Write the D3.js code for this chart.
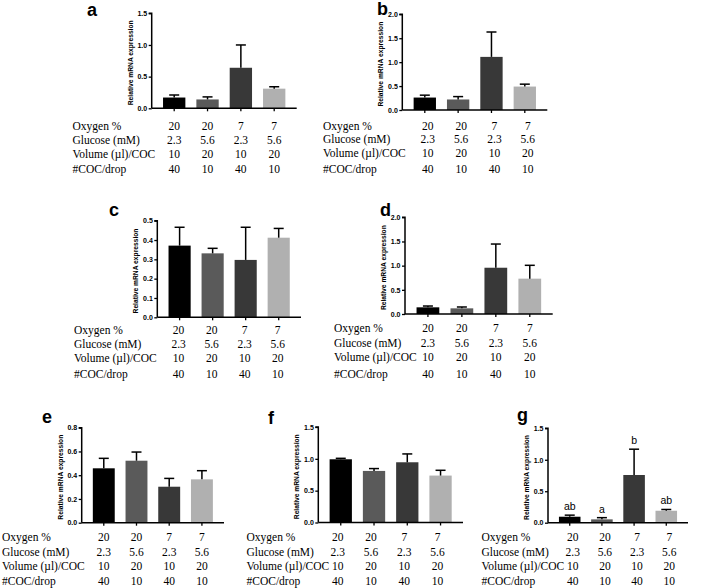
<!DOCTYPE html>
<html>
<head>
<meta charset="utf-8">
<script src="https://cdn.jsdelivr.net/npm/d3@7"></script>
<style>
  html, body { margin: 0; padding: 0; background: #fff; }
  svg { display: block; }
  .serif { font-family: "Liberation Serif", "Times New Roman", Times, serif; }
  .sans { font-family: "Liberation Sans", Arial, Helvetica, sans-serif; }
</style>
</head>
<body>
<svg id="chart" width="708" height="588"></svg>
<script>
// ---------- DATA ----------
const groups = ["G1", "G2", "G3", "G4"];
const rowLabels = ["Oxygen %", "Glucose (mM)", "Volume (\u00b5l)/COC", "#COC/drop"];
const oxygen = ["20", "20", "7", "7"];
const glucose = ["2.3", "5.6", "2.3", "5.6"];
const volume = ["10", "20", "10", "20"];
const cocPerDrop = ["40", "10", "40", "10"];
const tableRows = [oxygen, glucose, volume, cocPerDrop];

const panelLetters = ["a", "b", "c", "d", "e", "f", "g"];

const meanA = [0.17, 0.14, 0.64, 0.31];
const errA  = [0.04, 0.04, 0.36, 0.03];
const ticksA = [0, 0.5, 1.0, 1.5];

const meanB = [0.26, 0.22, 1.11, 0.49];
const errB  = [0.05, 0.06, 0.52, 0.05];
const ticksB = [0, 0.5, 1.0, 1.5, 2.0];

const meanC = [0.371, 0.331, 0.297, 0.412];
const errC  = [0.095, 0.026, 0.169, 0.048];
const ticksC = [0, 0.1, 0.2, 0.3, 0.4, 0.5];

const meanD = [0.138, 0.117, 0.957, 0.731];
const errD  = [0.027, 0.028, 0.49, 0.276];
const ticksD = [0, 0.5, 1.0, 1.5, 2.0];

const meanE = [0.458, 0.522, 0.303, 0.365];
const errE  = [0.084, 0.073, 0.07, 0.073];
const ticksE = [0, 0.2, 0.4, 0.6, 0.8];

const meanF = [0.993, 0.81, 0.946, 0.737];
const errF  = [0.015, 0.037, 0.131, 0.083];
const ticksF = [0, 0.5, 1.0, 1.5];

const meanG = [0.095, 0.053, 0.758, 0.19];
const errG  = [0.025, 0.027, 0.41, 0.02];
const ticksG = [0, 0.5, 1.0, 1.5];
const sigG  = ["ab", "a", "b", "ab"];

const barColors = ["#000000", "#5a5a5a", "#383838", "#b0b0b0"];

// ---------- LAYOUT (positions only) ----------
const layout = [
  { mean: meanA, err: errA, ticks: ticksA, ax: 151.7, top: 13.3, y0: 108.3, xEnd: 296.7, tableX: 72.5, rows: [126, 140, 154, 169], colDx: 0, letter: [87, 16] },
  { mean: meanB, err: errB, ticks: ticksB, ax: 402.3, top: 14.3, y0: 110, xEnd: 547.3, tableX: 323, rows: [126, 139, 153, 169], colDx: 3, letter: [377, 15] },
  { mean: meanC, err: errC, ticks: ticksC, ax: 157.3, top: 220.7, y0: 317.3, xEnd: 301, tableX: 74, rows: [330, 344, 358, 374], colDx: -1, letter: [109, 216] },
  { mean: meanD, err: errD, ticks: ticksD, ax: 405, top: 217.3, y0: 314, xEnd: 552.7, tableX: 334, rows: [328, 343, 357, 374], colDx: 0, letter: [380, 216] },
  { mean: meanE, err: errE, ticks: ticksE, ax: 81.7, top: 427.7, y0: 522.7, xEnd: 224, tableX: 2, rows: [537, 551.5, 565.5, 580.5], colDx: 0, letter: [42, 423] },
  { mean: meanF, err: errF, ticks: ticksF, ax: 318.3, top: 427, y0: 522.5, xEnd: 463, tableX: 246.5, rows: [537, 551.5, 565.5, 580.5], colDx: -3, letter: [268, 424] },
  { mean: meanG, err: errG, ticks: ticksG, ax: 548, top: 428.3, y0: 522.7, xEnd: 688, tableX: 481.5, rows: [537, 551.5, 565.5, 580.5], colDx: 3, letter: [517, 421], sig: sigG }
];

const svg = d3.select("#chart");

layout.forEach((p, i) => {
  const g = svg.append("g");
  const x = d3.scaleBand().domain(groups).range([p.ax, p.xEnd]).paddingInner(0.33).paddingOuter(0.34);
  const yMax = p.ticks[p.ticks.length - 1];
  const y = d3.scaleLinear().domain([0, yMax]).range([p.y0, p.top]);

  // bars
  g.selectAll("rect.bar").data(p.mean).enter().append("rect")
    .attr("x", (d, j) => x(groups[j]))
    .attr("width", x.bandwidth())
    .attr("y", d => y(d))
    .attr("height", d => p.y0 - y(d))
    .attr("fill", (d, j) => barColors[j]);

  // error bars (upper only)
  const capW = 10;
  p.mean.forEach((m, j) => {
    const cx = x(groups[j]) + x.bandwidth() / 2;
    g.append("line").attr("x1", cx).attr("x2", cx)
      .attr("y1", y(m)).attr("y2", y(m + p.err[j]))
      .attr("stroke", "#000").attr("stroke-width", 1.5);
    g.append("line").attr("x1", cx - capW / 2).attr("x2", cx + capW / 2)
      .attr("y1", y(m + p.err[j])).attr("y2", y(m + p.err[j]))
      .attr("stroke", "#000").attr("stroke-width", 1.5);
    if (p.sig) {
      g.append("text").attr("class", "sans").attr("x", cx).attr("y", y(m + p.err[j]) - 5)
        .attr("text-anchor", "middle")
        .style("font-size", "10.5px")
        .attr("fill", "#000").text(p.sig[j]);
    }
  });

  // y axis
  const yAxis = d3.axisLeft(y).tickValues(p.ticks).tickSize(3).tickPadding(1.5)
    .tickFormat(d3.format(".1f"));
  const ya = g.append("g").attr("transform", `translate(${p.ax},0)`).call(yAxis);
  ya.attr("font-family", null).attr("font-size", null);
  ya.select(".domain").attr("stroke-width", 1.5).attr("d", `M-3,${p.top}H0V${p.y0}`);
  ya.selectAll(".tick line").attr("stroke-width", 1.3);
  ya.selectAll("text").attr("class", "sans").style("font-weight", "bold").style("font-size", "7px");

  // x axis
  const xAxis = d3.axisBottom(x).tickSize(3).tickFormat("");
  const xa = g.append("g").attr("transform", `translate(0,${p.y0})`).call(xAxis);
  xa.select(".domain").attr("stroke-width", 1.5).attr("d", `M${p.ax},0H${p.xEnd}`);
  xa.selectAll(".tick line").attr("stroke-width", 1.3);

  // y title
  g.append("text").attr("class", "sans")
    .attr("transform", `translate(${p.ax - 19},${(p.top + p.y0) / 2 + 2}) rotate(-90)`)
    .attr("text-anchor", "middle")
    .style("font-weight", "bold").style("font-size", "6.7px")
    .text("Relative mRNA expression");

  // panel letter
  g.append("text").attr("class", "sans").attr("x", p.letter[0]).attr("y", p.letter[1])
    .style("font-weight", "bold").style("font-size", "18px")
    .text(panelLetters[i]);

  // condition table
  rowLabels.forEach((lab, r) => {
    g.append("text").attr("class", "serif").attr("x", p.tableX).attr("y", p.rows[r] + 4)
      .style("font-size", "11.5px").text(lab);
    tableRows[r].forEach((v, j) => {
      g.append("text").attr("class", "serif")
        .attr("x", x(groups[j]) + x.bandwidth() / 2 + p.colDx)
        .attr("y", p.rows[r] + 4)
        .attr("text-anchor", "middle")
        .style("font-size", "11.5px").text(v);
    });
  });
});
</script>
</body>
</html>
